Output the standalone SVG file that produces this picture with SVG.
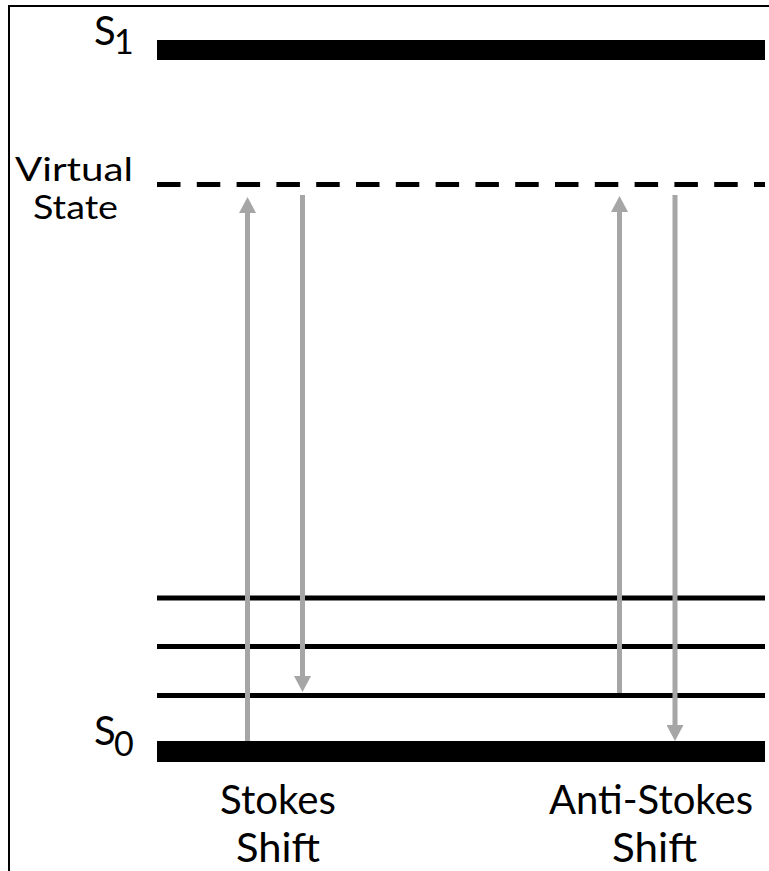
<svg xmlns="http://www.w3.org/2000/svg" width="769" height="871" viewBox="0 0 769 871">
<style>
.lbl{font-family:Lato,"Open Sans","Liberation Sans",sans-serif;fill:#000}
.big{font-size:40px}
.mid{font-size:33px}
.sub{font-size:34px}
.lvl{stroke:#000;stroke-width:5}
.arr{stroke:#A6A6A6;stroke-width:5;fill:none;marker-end:url(#ah)}
</style>
<defs>
<marker id="ah" markerUnits="userSpaceOnUse" markerWidth="17" markerHeight="17" refX="1" refY="8.5" orient="auto">
<path d="M0,0 L16,8.5 L0,17 Z" fill="#A6A6A6"/>
</marker>
</defs>
<rect width="769" height="871" fill="#fff"/>
<path d="M9,871 V6 H769" fill="none" stroke="#000" stroke-width="2"/>
<g id="S1">
<rect x="157" y="40" width="608" height="20" fill="#000"/>
<text class="lbl big" x="94" y="45">S<tspan class="sub" x="114" y="54">1</tspan></text>
</g>
<g id="virtual-state">
<line x1="157" y1="184.5" x2="765" y2="184.5" stroke="#000" stroke-width="5" stroke-dasharray="23.5 16.3"/>
<text class="lbl mid" x="15" y="181" textLength="118" lengthAdjust="spacingAndGlyphs">Virtual</text>
<text class="lbl mid" x="33" y="219" textLength="85" lengthAdjust="spacingAndGlyphs">State</text>
</g>
<g id="v3"><line class="lvl" x1="157" y1="598" x2="765" y2="598"/></g>
<g id="v2"><line class="lvl" x1="157" y1="646.5" x2="765" y2="646.5"/></g>
<g id="v1"><line class="lvl" x1="157" y1="695.5" x2="765" y2="695.5"/></g>
<g id="S0">
<rect x="157" y="741" width="608" height="21" fill="#000"/>
<text class="lbl big" x="94" y="745">S<tspan class="sub" x="114" y="756">0</tspan></text>
</g>
<g id="stokes-label">
<text class="lbl big" x="220" y="814" textLength="116" lengthAdjust="spacingAndGlyphs">Stokes</text>
<text class="lbl big" x="236" y="862" textLength="84" lengthAdjust="spacingAndGlyphs">Shift</text>
</g>
<g id="anti-stokes-label">
<text class="lbl big" x="549" y="814" textLength="204" lengthAdjust="spacingAndGlyphs">Anti-Stokes</text>
<text class="lbl big" x="612" y="862" textLength="85" lengthAdjust="spacingAndGlyphs">Shift</text>
</g>
<g id="connectors">
<line class="arr" x1="247.5" y1="741" x2="247.5" y2="212"/>
<line class="arr" x1="302.5" y1="195" x2="302.5" y2="677"/>
<line class="arr" x1="619.5" y1="693" x2="619.5" y2="211"/>
<line class="arr" x1="675" y1="195" x2="675" y2="726"/>
</g>
</svg>
